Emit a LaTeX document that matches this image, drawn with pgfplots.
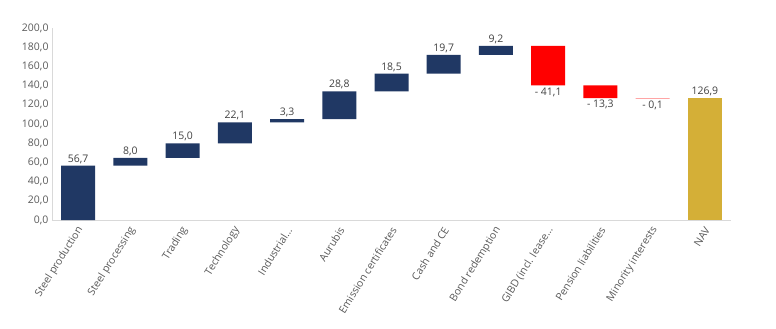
\documentclass[border=0pt]{standalone}
\usepackage{pgfplots}
\pgfplotsset{compat=1.18}
\usepackage{fontspec}
\setmainfont{Open Sans}
\definecolor{navy}{HTML}{203864}
\definecolor{gold}{HTML}{D4AF37}
\definecolor{txt}{HTML}{595959}
\definecolor{lbl}{HTML}{404040}
\definecolor{axl}{HTML}{D9D9D9}
\pgfplotsset{common/.style={at={(0,0)}, anchor=south west, scale only axis,
  width=679bp, height=192bp,
  xmin=-0.5, xmax=12.5, ymin=0, ymax=200}}
\begin{document}
\begin{tikzpicture}
\useasboundingbox (-52bp,-109bp) rectangle (724bp,220bp);
\begin{axis}[common,
  ybar stacked, bar width=34bp,
  ytick={0,20,...,200},
  xtick={0,...,12},
  xticklabels={Steel production, Steel processing, Trading, Technology, Industrial…, Aurubis, Emission certificates, Cash and CE, Bond redemption, GIBD (incl. lease…, Pension liabilities, Minority interests, NAV},
  axis x line*=bottom, axis y line*=left,
  axis line style={draw=axl, line width=0.8bp},
  major tick length=0pt,
  /pgf/number format/assume math mode=true,
  /pgf/number format/.cd, fixed, fixed zerofill, precision=1, use comma,
  /pgfplots/.cd,
  yticklabel style={font=\fontsize{10.5}{12}\selectfont, text=txt},
  xticklabel style={font=\fontsize{10.5}{12}\selectfont, text=txt, yshift=-7bp, xshift=3bp, rotate=58, anchor=east, inner sep=1pt},
]
% invisible base
\addplot[draw=none, fill=none] coordinates {
 (0,0) (1,56.7) (2,64.7) (3,79.7) (4,101.8) (5,105.1)
 (6,133.9) (7,152.4) (8,172.1) (9,140.2) (10,126.9)
 (11,126.8) (12,0)};
% positive contributions
\addplot[draw=none, fill=navy] coordinates {
 (0,56.7) (1,8.0) (2,15.0) (3,22.1) (4,3.3)
 (5,28.8) (6,18.5) (7,19.7) (8,9.2) (9,0)
 (10,0) (11,0) (12,0)};
% negative contributions
\addplot[draw=none, fill=red] coordinates {
 (0,0) (1,0) (2,0) (3,0) (4,0) (5,0) (6,0) (7,0) (8,0)
 (9,41.1) (10,13.3) (11,0.1) (12,0)};
% NAV
\addplot[draw=none, fill=gold] coordinates {
 (0,0) (1,0) (2,0) (3,0) (4,0) (5,0) (6,0) (7,0) (8,0)
 (9,0) (10,0) (11,0) (12,126.9)};
\end{axis}
\begin{axis}[common, hide axis,
  point meta=explicit symbolic,
  nodes near coords,
  nodes near coords style={font=\fontsize{10.5}{12}\selectfont, text=lbl, inner sep=2pt},
]
\addplot[only marks, mark=none, nodes near coords style={anchor=south}] coordinates {
 (0,56.7) [56,7] (1,64.7) [8,0] (2,79.7) [15,0] (3,101.8) [22,1] (4,105.1) [3,3]
 (5,133.9) [28,8] (6,152.4) [18,5] (7,172.1) [19,7] (8,181.3) [9,2] (12,126.9) [126,9]};
\addplot[only marks, mark=none, nodes near coords style={anchor=north}] coordinates {
 (9,140.2) [- 41,1] (10,126.9) [- 13,3] (11,126.8) [- 0,1]};
\end{axis}
\end{tikzpicture}
\end{document}
